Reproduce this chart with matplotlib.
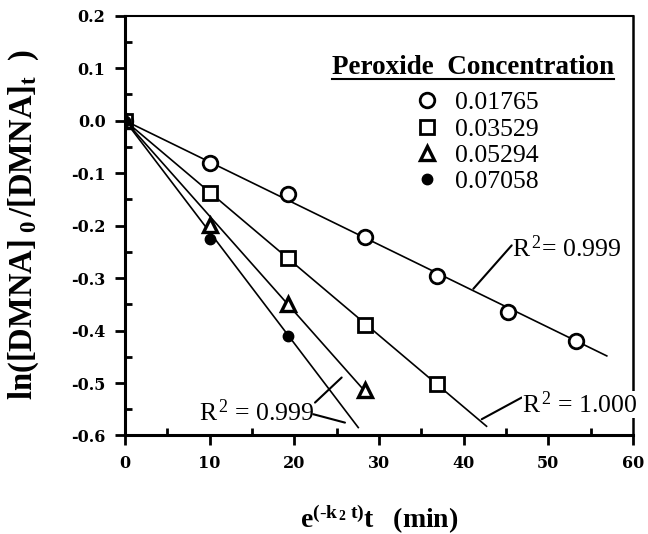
import matplotlib
matplotlib.use("Agg")
import matplotlib.pyplot as plt
from matplotlib.lines import Line2D
from matplotlib.ticker import MultipleLocator, FormatStrFormatter

plt.rcParams["font.family"] = ["Liberation Serif", "DejaVu Serif"]
plt.rcParams["mathtext.fontset"] = "custom"
plt.rcParams["mathtext.rm"] = "Liberation Serif"
plt.rcParams["mathtext.bf"] = "Liberation Serif:bold"
plt.rcParams["mathtext.it"] = "Liberation Serif:italic"
plt.rcParams["axes.unicode_minus"] = False

# peroxide concentrations (legend entries)
conc_labels = ["0.01765", "0.03529", "0.05294", "0.07058"]

# e^(-k2 t) t values (min)
time_x = [0.0, 10.0, 19.2, 28.3, 36.8, 45.2, 53.3]

# ln([DMNA]0/[DMNA]t) for each concentration
y_01765 = [0.0, -0.081, -0.140, -0.222, -0.296, -0.365, -0.419]
y_03529 = [0.0, -0.138, -0.261, -0.390, -0.502]
y_05294 = [0.0, -0.198, -0.349, -0.513]
y_07058 = [0.0, -0.225, -0.411]

# linear fits through the origin: slope and end of the drawn line
fit_slope = [-0.00788, -0.01364, -0.0182, -0.02123]
fit_x_end = [56.9, 42.7, 28.6, 27.55]

r2_labels = ["0.999", "1.000", "0.999"]

series = [y_01765, y_03529, y_05294, y_07058]
markers = [
    dict(marker="o", ms=10.5, mfc="white", mec="black", mew=2.0),
    dict(marker="s", ms=10.0, mfc="white", mec="black", mew=2.0),
    dict(marker="^", ms=10.5, mfc="white", mec="black", mew=2.4),
    dict(marker="o", ms=7.5, mfc="black", mec="black", mew=1.0),
]

fig = plt.figure(figsize=(6.48, 5.34), dpi=100)
ax = fig.add_axes([0.1929, 0.1845, 0.7840, 0.7861])

# fitted lines
for slope, x_end in zip(fit_slope, fit_x_end):
    ax.plot([0, x_end], [0, slope * x_end], color="black", lw=1.2, zorder=3)

# measured points
handles = []
for ys, mk, lab in zip(series, markers, conc_labels):
    (h,) = ax.plot(time_x[: len(ys)], ys, linestyle="none", label=lab,
                   zorder=4, **mk)
    handles.append(h)

ax.set_xlim(0, 60)
ax.set_ylim(-0.6, 0.2)
ax.xaxis.set_major_locator(MultipleLocator(10))
ax.xaxis.set_minor_locator(MultipleLocator(5))
ax.yaxis.set_major_locator(MultipleLocator(0.1))
ax.yaxis.set_minor_locator(MultipleLocator(0.05))
ax.yaxis.set_major_formatter(FormatStrFormatter("%.1f"))

ax.tick_params(which="major", direction="out", length=7, width=2, pad=7)
ax.tick_params(which="minor", direction="in", length=5, width=2)
for lbl in ax.get_xticklabels() + ax.get_yticklabels():
    lbl.set_fontfamily("DejaVu Serif")
    lbl.set_fontweight("bold")
    lbl.set_fontsize(11.5)

for side in ["left", "bottom"]:
    ax.spines[side].set_linewidth(2.2)
ax.spines["right"].set_linewidth(1.8)
ax.spines["top"].set_linewidth(1.5)

ax.set_xlabel(r"$\mathbf{e^{(\text{-}k_{\,2}\ t)}t\ \ \ (min)}$", fontsize=20,
              labelpad=22)
ax.set_ylabel(r"$\mathbf{ln([DMNA]_{\ 0}\,/[DMNA]_{t}\ \ )}$", fontsize=23.5)
ax.yaxis.set_label_coords(-0.165, 0.504)

# legend: underlined bold heading above the marker entries
heading = ax.text(0.685, 0.862, "Peroxide  Concentration", transform=ax.transAxes,
                  ha="center", va="baseline", fontsize=19.5, fontweight="bold")
leg = ax.legend(handles=handles, loc="upper left",
                bbox_to_anchor=(0.569, 0.820), frameon=False,
                fontsize=18.5, borderpad=0, borderaxespad=0,
                handlelength=1.0, handletextpad=0.6, labelspacing=0.13)

# R^2 labels with leader lines
r2_kw = dict(fontsize=18.5, ha="left", va="baseline", zorder=6,
             clip_on=False)
ax.text(45.7, -0.2606, r"R$^{\,2}$= " + r2_labels[0], **r2_kw)
ax.text(46.9, -0.557, r"R$^{\,2}$ = " + r2_labels[1],
        bbox=dict(facecolor="white", edgecolor="none", pad=0), **r2_kw)
ax.text(8.74, -0.572, r"R$^{\,2}$ = " + r2_labels[2], **r2_kw)

leaders = [
    ((45.67, -0.2377), (41.14, -0.3205)),
    ((46.85, -0.5277), (42.13, -0.569)),
    ((22.44, -0.5373), (25.59, -0.4895)),
    ((22.24, -0.5595), (25.98, -0.5755)),
]
for start, end in leaders:
    ax.annotate("", xy=end, xytext=start,
                arrowprops=dict(arrowstyle="-", lw=1.5, color="black",
                                shrinkA=0, shrinkB=0))

# underline the legend heading
fig.canvas.draw()
bb = heading.get_window_extent().transformed(fig.transFigure.inverted())
fig.add_artist(Line2D([bb.x0, bb.x1], [bb.y0 + 0.002, bb.y0 + 0.002],
                      color="black", lw=1.5, transform=fig.transFigure))

fig.savefig("out.png", dpi=100)
